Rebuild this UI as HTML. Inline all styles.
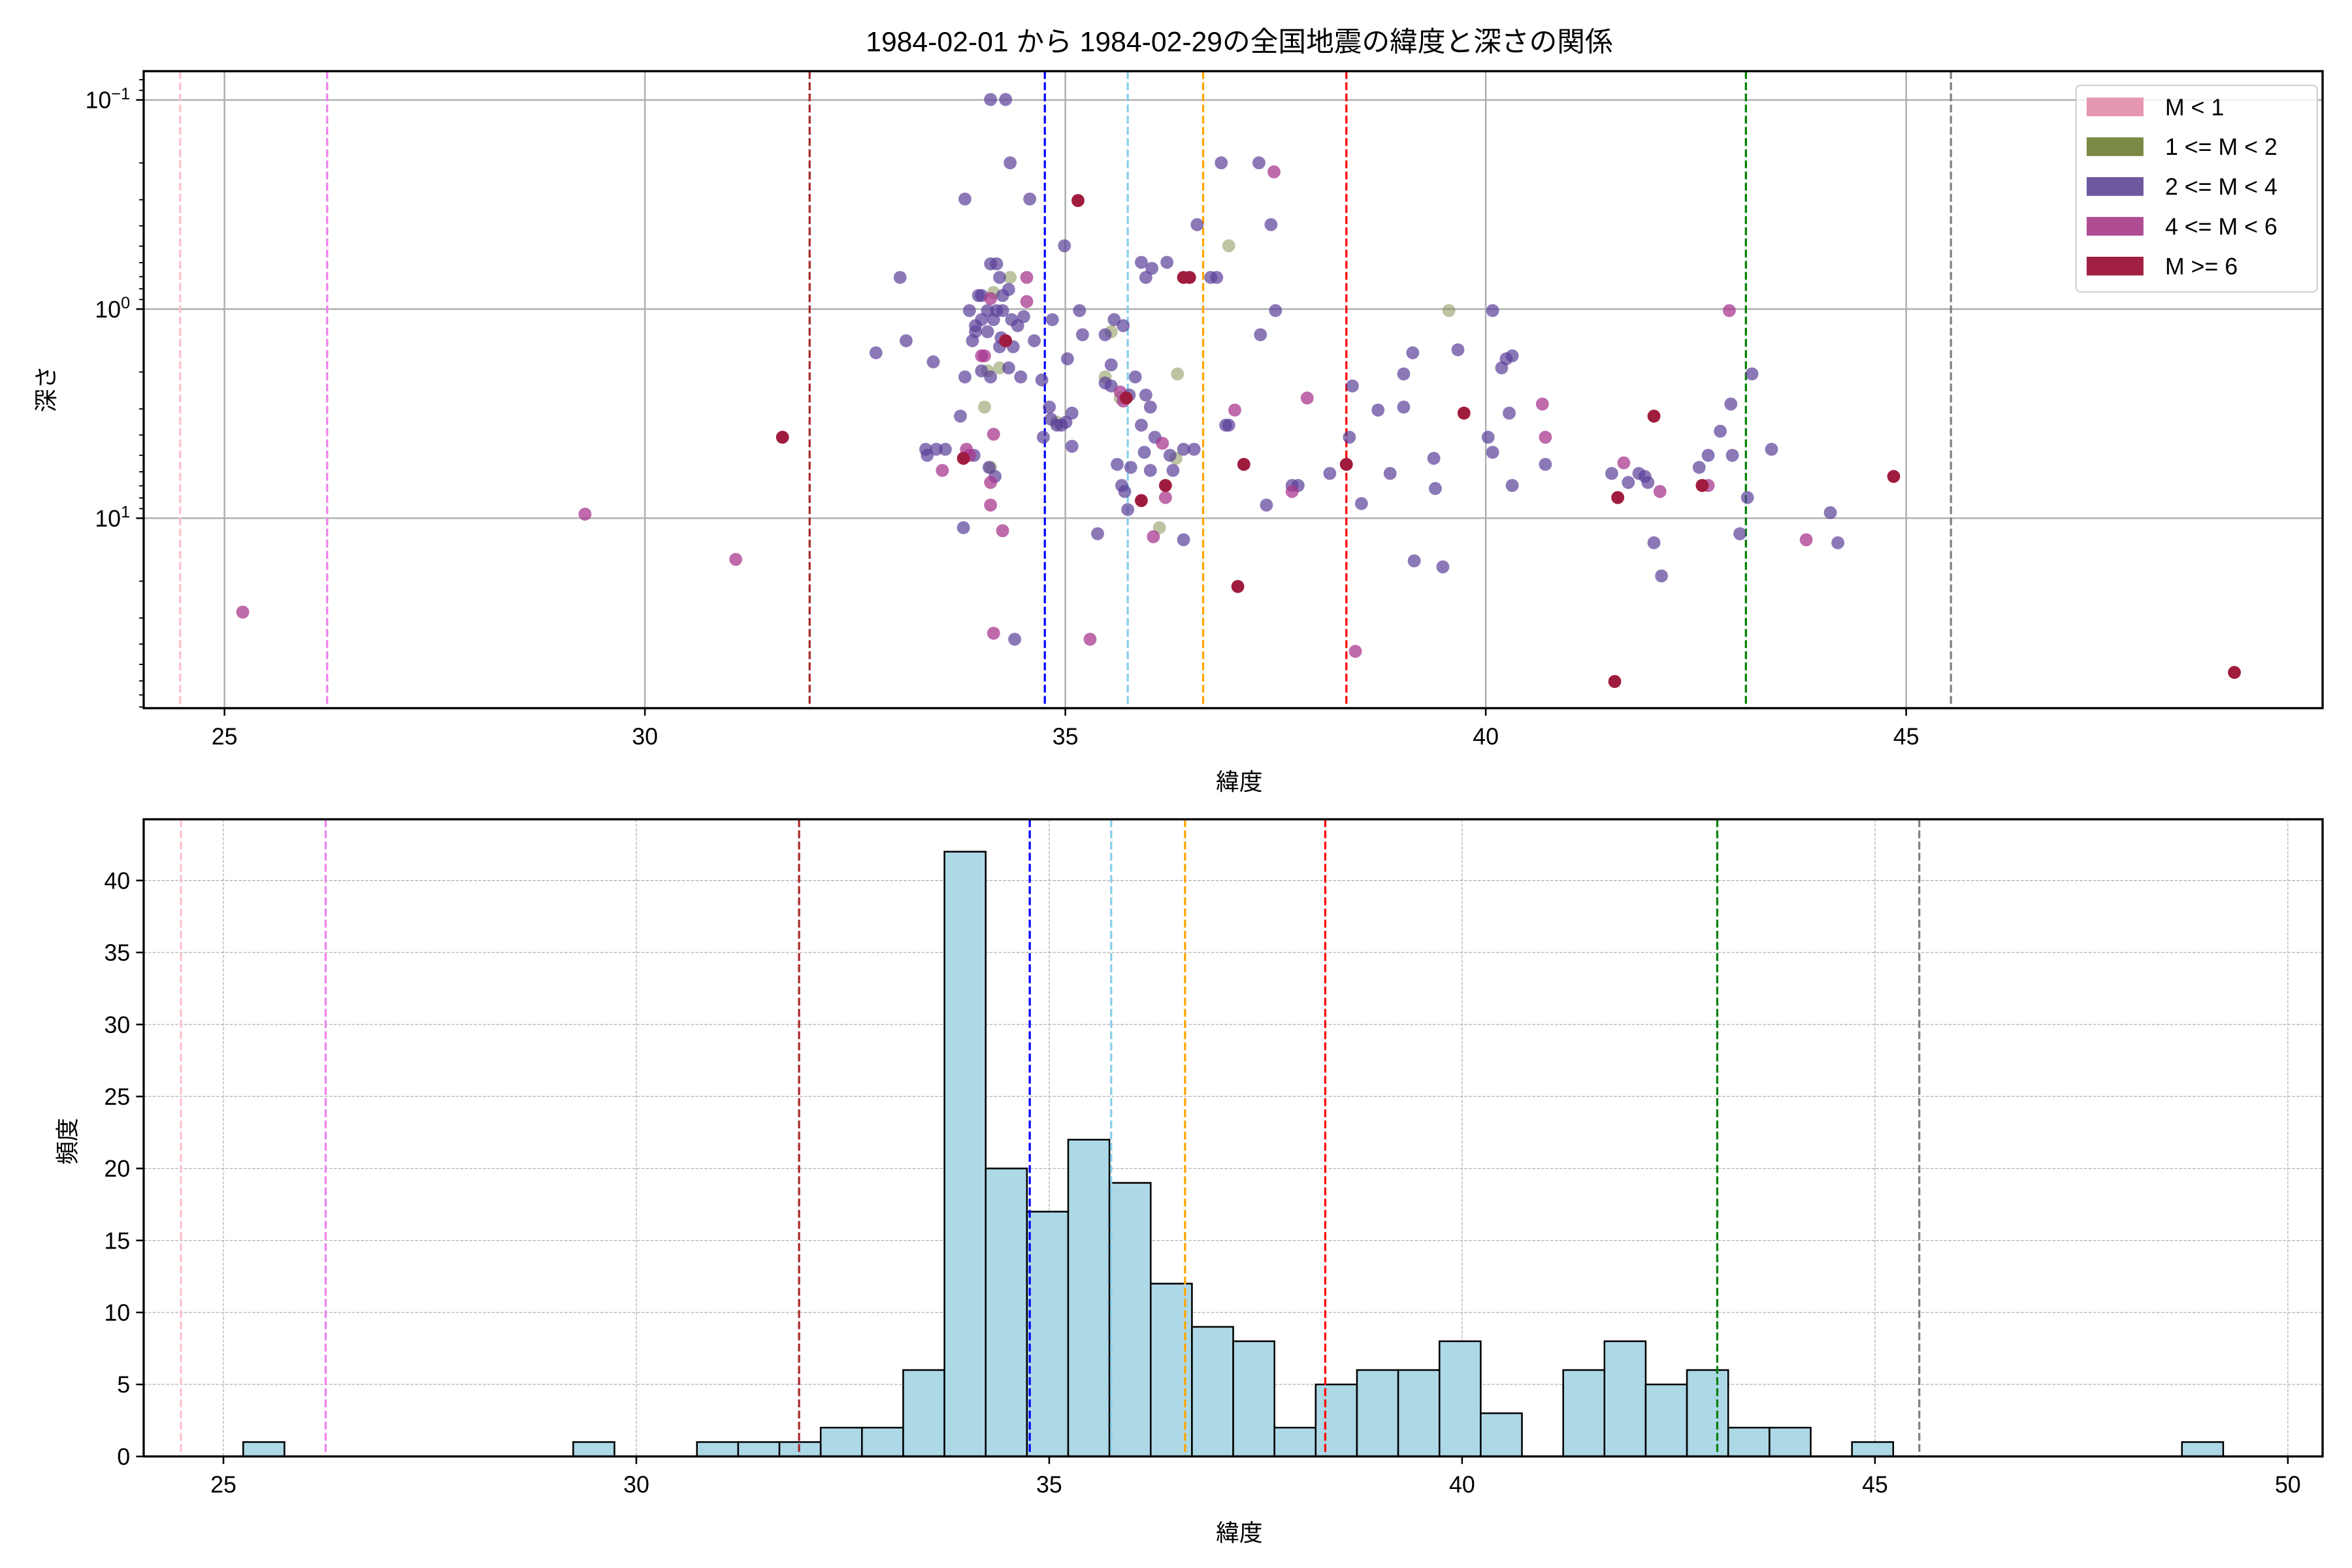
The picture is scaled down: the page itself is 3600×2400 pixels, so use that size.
<!DOCTYPE html>
<html><head><meta charset="utf-8">
<style>
html,body{margin:0;padding:0;background:#fff;}
svg{display:block;}
text{font-family:"Liberation Sans","Noto Sans CJK JP",sans-serif;fill:#000;}
</style></head>
<body>
<svg id="s" xmlns="http://www.w3.org/2000/svg" width="3600" height="2400" viewBox="0 0 1560 1040">
<rect width="1560" height="1040" fill="#fff"/>
<g id="g"></g>
</svg>
<script>
const NS="http://www.w3.org/2000/svg";
const g=document.getElementById('g');
function el(t,a,txt){const e=document.createElementNS(NS,t);for(const k in a)e.setAttribute(k,a[k]);if(txt!==undefined)e.textContent=txt;g.appendChild(e);return e;}
// ---------- TOP PLOT ----------
const L1=95.3,R1=1540.5,T1=47.2,B1=469.7;
const x1=v=>148.9+(v-25)*55.77;
const y1=v=>66.3+(Math.log10(v)+1)*138.7;
[25,30,35,40,45].forEach(v=>{el('line',{x1:x1(v),x2:x1(v),y1:T1,y2:B1,stroke:'#b0b0b0','stroke-width':1.1});});
[0.1,1,10].forEach(v=>{el('line',{x1:L1,x2:R1,y1:y1(v),y2:y1(v),stroke:'#b0b0b0','stroke-width':1.1});});
const vt=[[119.5,'pink'],[217,'violet'],[537,'brown'],[693,'blue'],[748,'skyblue'],[798,'orange'],[893,'red'],[1158,'green'],[1294,'gray']];
const vcol={brown:'#a52a2a'};
vt.forEach(([x,c])=>el('line',{x1:x,x2:x,y1:T1,y2:B1,stroke:vcol[c]||c,'stroke-width':1.4,'stroke-dasharray':'5.2,2.2'}));
const P=[[657,66],[667,66],[670,108],[640,132],[683,132],[597,184],[601,226],[581,234],[619,240],[643,206],[647,216],[649,196],[657,175],[661,175],[663,184],[665,196],[665,206],[655,206],[651,212],[647,220],[645,226],[651,246],[657,250],[663,230],[669,244],[671,212],[677,250],[679,210],[686,226],[691,252],[696,270],[697,278],[701,282],[704,282],[707,280],[711,274],[716,206],[718,222],[706,163],[698,212],[708,238],[733,222],[737,242],[739,212],[745,216],[753,250],[749,262],[757,282],[760,262],[763,270],[759,300],[763,312],[766,290],[757,174],[760,184],[764,178],[774,174],[776,302],[778,312],[794,149],[803,184],[807,184],[810,108],[813,282],[815,282],[835,108],[843,149],[846,206],[836,222],[840,335],[857,322],[861,322],[882,314],[897,256],[895,290],[903,334],[914,272],[922,314],[931,248],[931,270],[937,234],[951,304],[952,324],[938,372],[957,376],[987,290],[990,300],[996,244],[999,238],[1003,236],[1001,274],[1003,322],[1025,308],[1069,314],[1080,320],[1087,314],[1091,316],[1093,320],[1097,360],[1102,382],[1127,310],[1133,302],[1141,286],[1148,268],[1149,302],[1154,354],[1159,330],[1162,248],[1175,298],[1214,340],[1219,360],[661,206],[655,220],[659,212],[640,250],[637,276],[621,298],[614,298],[615,302],[627,298],[656,310],[660,316],[646,302],[673,424],[733,254],[737,256],[741,308],[744,322],[746,326],[748,338],[750,310],[728,354],[785,358],[990,206],[967,232],[639,350],[692,290],[711,296],[785,298],[792,298],[651,196],[675,216],[669,192],[664,224],[672,230]];
const O=[[659,194],[663,244],[670,184],[653,270],[657,310],[733,250],[743,264],[780,304],[815,163],[781,248],[961,206],[769,350],[655,246],[737,220],[701,280]];
const Mg=[[161,406],[388,341],[488,371],[681,184],[681,200],[657,198],[653,236],[641,298],[625,312],[657,320],[657,335],[665,352],[659,420],[723,424],[743,260],[745,266],[765,356],[773,330],[819,272],[845,114],[857,326],[867,264],[899,432],[1025,290],[1023,268],[1077,307],[1101,326],[1133,322],[1147,206],[1198,358],[659,288],[771,294],[651,236],[643,302]];
const D=[[519,290],[715,133],[789,184],[747,264],[757,332],[773,322],[785,184],[821,389],[825,308],[893,308],[971,274],[1071,452],[1073,330],[1097,276],[1129,322],[1256,316],[1482,446],[667,226],[639,304]];
function pts(a,c,op){a.forEach(([x,y])=>el('circle',{cx:x,cy:y,r:4.3,fill:c,'fill-opacity':op}));}
pts(O,'#7a8a45',0.5);pts(P,'#5a3e98',0.7);pts(Mg,'#a8388f',0.75);pts(D,'#a01c3e',1);
el('rect',{x:L1,y:T1,width:R1-L1,height:B1-T1,fill:'none',stroke:'#000','stroke-width':1.44});
[25,30,35,40,45].forEach(v=>{el('line',{x1:x1(v),x2:x1(v),y1:B1,y2:B1+5,stroke:'#000','stroke-width':1.1});el('text',{x:x1(v),y:B1+24,'font-size':15.5,'text-anchor':'middle'},v);});
[[0.1,'−1'],[1,'0'],[10,'1']].forEach(([v,e])=>{const y=y1(v);el('line',{x1:L1,x2:L1-5,y1:y,y2:y,stroke:'#000','stroke-width':1.1});
 const t=el('text',{x:L1-9,y:y+5.5,'font-size':15.5,'text-anchor':'end'});
 const a=document.createElementNS(NS,'tspan');a.textContent='10';t.appendChild(a);
 const b=document.createElementNS(NS,'tspan');b.setAttribute('font-size','11');b.setAttribute('dy','-6');b.textContent=e;t.appendChild(b);});
[0.06,0.07,0.08,0.09,0.2,0.3,0.4,0.5,0.6,0.7,0.8,0.9,2,3,4,5,6,7,8,9,20,30,40,50,60,70,80].forEach(v=>{const y=y1(v);if(y>T1&&y<B1)el('line',{x1:L1,x2:L1-3,y1:y,y2:y,stroke:'#000','stroke-width':0.8});});
el('text',{x:822,y:524,'font-size':15.5,'text-anchor':'middle'},'緯度');
el('text',{x:0,y:0,'font-size':15.5,'text-anchor':'middle',transform:'translate(36,258) rotate(-90)'},'深さ');
el('text',{x:822,y:34,'font-size':18.5,'text-anchor':'middle'},'1984-02-01 から 1984-02-29の全国地震の緯度と深さの関係');
el('rect',{x:1377,y:56.6,width:160,height:137,rx:3,fill:'#fff','fill-opacity':0.8,stroke:'#d0d0d0','stroke-width':1});
const LG=[['#e597b0','M < 1'],['#7a8a45','1 <= M < 2'],['#6e58a0','2 <= M < 4'],['#b04c94','4 <= M < 6'],['#a01f42','M >= 6']];
LG.forEach(([c,t],i)=>{const cy=70.9+i*26.4;el('rect',{x:1384,y:cy-6.2,width:37.7,height:12.4,fill:c});el('text',{x:1436,y:cy+5.5,'font-size':15.5},t);});
// ---------- BOTTOM PLOT ----------
const L2=95.3,R2=1540.5,T2=543.4,B2=966;
const x2=v=>148.2+(v-25)*54.77;
const K=9.55;
const y2=c=>B2-c*K;
[25,30,35,40,45,50].forEach(v=>el('line',{x1:x2(v),x2:x2(v),y1:T2,y2:B2,stroke:'#b0b0b0','stroke-width':0.55,'stroke-dasharray':'2,1'}));
[5,10,15,20,25,30,35,40].forEach(c=>el('line',{x1:L2,x2:R2,y1:y2(c),y2:y2(c),stroke:'#b0b0b0','stroke-width':0.55,'stroke-dasharray':'2,1'}));
const H={0:1,8:1,11:1,12:1,13:1,14:2,15:2,16:6,17:42,18:20,19:17,20:22,21:19,22:12,23:9,24:8,25:2,26:5,27:6,28:6,29:8,30:3,32:6,33:8,34:5,35:6,36:2,37:2,39:1,47:1};
for(const j in H){const x=161.3+j*27.36;el('rect',{x:x,y:y2(H[j]),width:27.36,height:H[j]*K,fill:'#add8e6',stroke:'#000','stroke-width':1.1});}
const vb=[[120,'pink'],[216,'violet'],[530,'brown'],[683,'blue'],[737,'skyblue'],[786,'orange'],[879,'red'],[1139,'green'],[1273,'gray']];
vb.forEach(([x,c])=>el('line',{x1:x,x2:x,y1:T2,y2:B2,stroke:vcol[c]||c,'stroke-width':1.4,'stroke-dasharray':'5.2,2.2'}));
el('rect',{x:L2,y:T2,width:R2-L2,height:B2-T2,fill:'none',stroke:'#000','stroke-width':1.44});
[25,30,35,40,45,50].forEach(v=>{el('line',{x1:x2(v),x2:x2(v),y1:B2,y2:B2+5,stroke:'#000','stroke-width':1.1});el('text',{x:x2(v),y:B2+24,'font-size':15.5,'text-anchor':'middle'},v);});
[0,5,10,15,20,25,30,35,40].forEach(c=>{el('line',{x1:L2,x2:L2-5,y1:y2(c),y2:y2(c),stroke:'#000','stroke-width':1.1});el('text',{x:L2-9,y:y2(c)+5.5,'font-size':15.5,'text-anchor':'end'},c);});
el('text',{x:822,y:1022,'font-size':15.5,'text-anchor':'middle'},'緯度');
el('text',{x:0,y:0,'font-size':15.5,'text-anchor':'middle',transform:'translate(50,757) rotate(-90)'},'頻度');
</script>
</body></html>
